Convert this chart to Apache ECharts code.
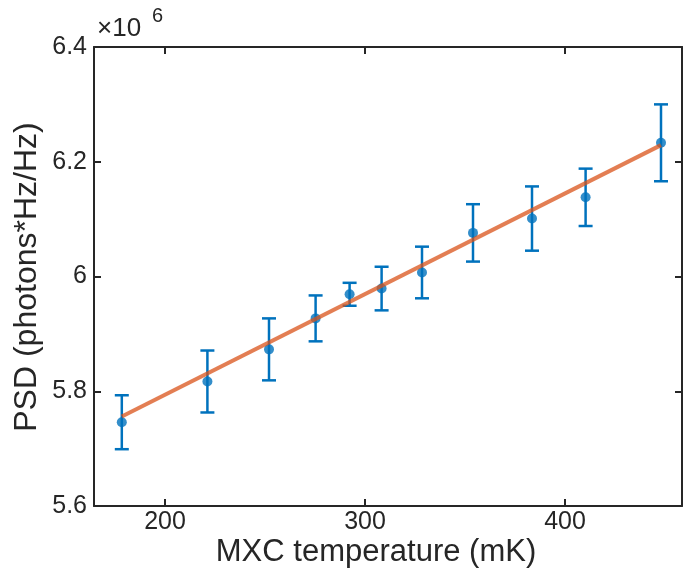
<!DOCTYPE html>
<html>
<head>
<meta charset="utf-8">
<script src="https://cdn.jsdelivr.net/npm/echarts@6/dist/echarts.min.js"></script>
<style>html,body{margin:0;padding:0;background:#fff}#c{width:686px;height:572px}</style>
</head>
<body>
<div id="c"></div>
<script>
// Data (PSD in units of 1e6 photons*Hz/Hz)
const temps = [178.4, 221.2, 252.0, 275.3, 292.3, 308.3, 328.5, 354.0, 383.5, 410.3, 448.0];
const psd   = [5.746, 5.817, 5.873, 5.927, 5.969, 5.979, 6.007, 6.076, 6.101, 6.138, 6.233];
const errs  = [0.047, 0.054, 0.054, 0.040, 0.020, 0.038, 0.045, 0.050, 0.056, 0.050, 0.067];
const fitX  = [178.4, 448.0];
const fitY  = [5.756, 6.229];
const xTicks = [200, 300, 400];
const yTicks = [5.6, 5.8, 6.0, 6.2, 6.4];
const xTitle = 'MXC temperature (mK)';
const yTitle = 'PSD (photons*Hz/Hz)';

const FONT = '"Liberation Sans", Arial, sans-serif';
const TXT = '#262626';
const BLUE = '#0072BD';

const errData = temps.map((t, i) => [t, psd[i] - errs[i], psd[i] + errs[i]]);
const ptData = temps.map((t, i) => [t, psd[i]]);
const fitData = fitX.map((x, i) => [x, fitY[i]]);

const chart = echarts.init(document.getElementById('c'), null, {renderer: 'canvas'});
const axisLineStyle = {color: TXT, width: 2};
chart.setOption({
  animation: false,
  backgroundColor: '#fff',
  grid: {left: 94, right: 4, top: 47, bottom: 66, outerBoundsMode: 'none', containLabel: false},
  xAxis: [{
    type: 'value', min: 164.5, max: 458.5, position: 'bottom',
    axisLine: {show: true, lineStyle: axisLineStyle},
    axisTick: {show: true, inside: true, length: 7, lineStyle: axisLineStyle, customValues: xTicks},
    axisLabel: {color: TXT, fontFamily: FONT, fontSize: 25, margin: 4, customValues: xTicks},
    splitLine: {show: false}
  }, {
    type: 'value', min: 164.5, max: 458.5, position: 'top',
    axisLine: {show: true, lineStyle: axisLineStyle},
    axisTick: {show: true, inside: true, length: 7, lineStyle: axisLineStyle, customValues: xTicks},
    axisLabel: {show: false},
    splitLine: {show: false}
  }],
  yAxis: [{
    type: 'value', min: 5.6, max: 6.4, interval: 0.2, position: 'left',
    axisLine: {show: true, lineStyle: axisLineStyle},
    axisTick: {show: true, inside: true, length: 7, lineStyle: axisLineStyle},
    axisLabel: {color: TXT, fontFamily: FONT, fontSize: 25, margin: 7,
      formatter: v => String(Math.round(v * 10) / 10)},
    splitLine: {show: false}
  }, {
    type: 'value', min: 5.6, max: 6.4, interval: 0.2, position: 'right',
    axisLine: {show: true, lineStyle: axisLineStyle},
    axisTick: {show: true, inside: true, length: 7, lineStyle: axisLineStyle},
    axisLabel: {show: false},
    splitLine: {show: false}
  }],
  graphic: [{
    type: 'text', x: 376, y: 552,
    style: {text: xTitle, fontSize: 31, fontFamily: FONT, fill: TXT, align: 'center', verticalAlign: 'middle'}
  }, {
    type: 'text', x: 27, y: 277, rotation: Math.PI / 2,
    style: {text: yTitle, fontSize: 32, fontFamily: FONT, fill: TXT, align: 'center', verticalAlign: 'middle'}
  }, {
    type: 'text', x: 97, y: 42,
    style: {text: '×10', fontSize: 26, fontFamily: FONT, fill: TXT, verticalAlign: 'bottom'}
  }, {
    type: 'text', x: 152, y: 26,
    style: {text: '6', fontSize: 20, fontFamily: FONT, fill: TXT, verticalAlign: 'bottom'}
  }],
  series: [{
    type: 'custom',
    data: errData,
    z: 2,
    renderItem: (params, api) => {
      const x = api.value(0);
      const lo = api.coord([x, api.value(1)]);
      const hi = api.coord([x, api.value(2)]);
      const hw = 7;
      const st = {stroke: BLUE, lineWidth: 2.5, fill: null};
      return {type: 'group', children: [
        {type: 'line', shape: {x1: lo[0], y1: lo[1], x2: hi[0], y2: hi[1]}, style: st},
        {type: 'line', shape: {x1: lo[0]-hw, y1: lo[1], x2: lo[0]+hw, y2: lo[1]}, style: st},
        {type: 'line', shape: {x1: hi[0]-hw, y1: hi[1], x2: hi[0]+hw, y2: hi[1]}, style: st}
      ]};
    }
  }, {
    type: 'scatter', data: ptData, symbol: 'circle', symbolSize: 10, z: 3,
    itemStyle: {color: BLUE}
  }, {
    type: 'line', data: fitData, symbol: 'none', z: 4,
    lineStyle: {color: '#D95319', width: 4, opacity: 0.75}
  }]
});
</script>
</body>
</html>
